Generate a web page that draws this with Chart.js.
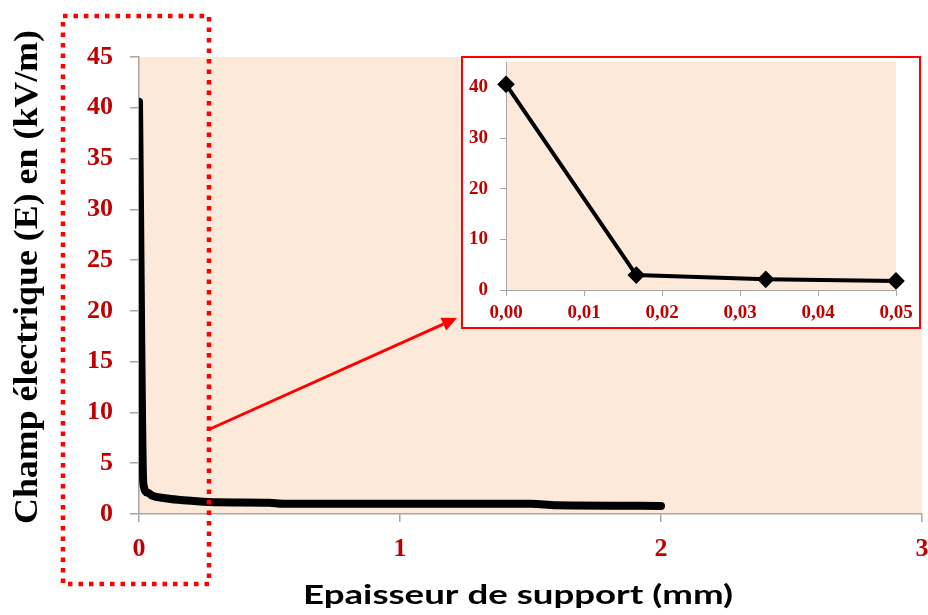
<!DOCTYPE html>
<html>
<head>
<meta charset="utf-8">
<script src="https://cdn.jsdelivr.net/npm/chart.js@4.4.0/dist/chart.umd.min.js"></script>
<style>
  html, body { margin: 0; padding: 0; background: #ffffff; }
  #wrap { position: relative; width: 928px; height: 615px; overflow: hidden; }
  #main { position: absolute; left: 0; top: 0; }
  #insetBox { position: absolute; left: 461px; top: 56px; width: 456px; height: 269px;
              border: 2px solid #FF0000; background: #ffffff; }
  #inset { display: block; }
</style>
</head>
<body>
<div id="wrap">
  <canvas id="main" width="928" height="615"></canvas>
  <div id="insetBox"><canvas id="inset" width="456" height="269"></canvas></div>
</div>
<script>
// Electric field (kV/m) versus support thickness (mm)
const thickness = [0, 0.0167, 0.0333, 0.05, 0.1, 0.15, 0.2, 0.3, 0.5, 0.55, 1.0, 1.5, 1.6, 2.0];
const field     = [40.6, 2.95, 2.1, 1.8, 1.55, 1.4, 1.3, 1.15, 1.1, 1.0, 1.0, 1.0, 0.85, 0.8];

// First few points, shown enlarged in the inset
const zoomThickness = [0, 0.0167, 0.0333, 0.05];
const zoomField     = [40.6, 2.95, 2.1, 1.8];

// Tick labels
const mainXTicks = ['0', '1', '2', '3'];
const mainYTicks = ['0', '5', '10', '15', '20', '25', '30', '35', '40', '45'];
const zoomXTicks = ['0,00', '0,01', '0,02', '0,03', '0,04', '0,05'];
const zoomYTicks = ['0', '10', '20', '30', '40'];

const xTitle = 'Epaisseur de support (mm)';
const yTitle = 'Champ électrique (E) en (kV/m)';

const DARK_RED = '#C00000';
const AXIS_GREY = '#A6A6A6';
const PLOT_BG = '#FDE9DA';

const toPoints = (xs, ys) => xs.map((x, i) => ({ x: x, y: ys[i] }));

const plotBackground = {
  id: 'plotBackground',
  beforeDraw(chart) {
    const { ctx, chartArea: a } = chart;
    ctx.save();
    ctx.fillStyle = PLOT_BG;
    ctx.fillRect(a.left, a.top, a.right - a.left, a.bottom - a.top);
    ctx.restore();
  }
};

// draws a single line of text with its advance stretched to a given length
function fillFitted(ctx, text, length) {
  const w = ctx.measureText(text).width;
  ctx.scale(length / w, 1);
  ctx.fillText(text, 0, 0);
}

// Axis titles, dotted highlight frame and the pointer arrow towards the inset
const annotations = {
  id: 'annotations',
  afterDraw(chart) {
    const ctx = chart.ctx;
    ctx.save();
    ctx.fillStyle = '#000000';
    ctx.textAlign = 'center';
    ctx.textBaseline = 'alphabetic';

    // y title, rotated
    ctx.save();
    ctx.font = 'bold 34px "Liberation Serif", "Times New Roman", serif';
    ctx.translate(37, 277);
    ctx.rotate(-Math.PI / 2);
    fillFitted(ctx, yTitle, 494);
    ctx.restore();

    // x title
    ctx.save();
    ctx.font = 'bold 26px Lato, "Open Sans", sans-serif';
    ctx.translate(518, 604);
    fillFitted(ctx, xTitle, 430);
    ctx.restore();

    // dotted frame around the steep part of the curve
    ctx.strokeStyle = '#FF0000';
    ctx.lineWidth = 4.5;
    ctx.lineCap = 'butt';
    ctx.setLineDash([4.5, 6]);
    ctx.strokeRect(63, 16, 146, 568);
    ctx.setLineDash([]);

    // arrow
    const x0 = 210, y0 = 429, x1 = 457, y1 = 318;
    const ang = Math.atan2(y1 - y0, x1 - x0);
    const headLen = 15, headW = 7;
    const bx = x1 - headLen * Math.cos(ang), by = y1 - headLen * Math.sin(ang);
    ctx.lineWidth = 3;
    ctx.beginPath();
    ctx.moveTo(x0, y0);
    ctx.lineTo(bx, by);
    ctx.stroke();
    ctx.fillStyle = '#FF0000';
    ctx.beginPath();
    ctx.moveTo(x1, y1);
    ctx.lineTo(bx + headW * Math.sin(ang), by - headW * Math.cos(ang));
    ctx.lineTo(bx - headW * Math.sin(ang), by + headW * Math.cos(ang));
    ctx.closePath();
    ctx.fill();
    ctx.restore();
  }
};

const serifBold = (size) => ({ family: '"Liberation Serif", "Times New Roman", serif', size: size, weight: 'bold' });

// fixed axis box sizes; label overflow is absorbed by the layout padding
const fixHeight = h => s => { s.height = h; s.paddingLeft = 0; s.paddingRight = 0; };
const fixWidth = w => s => { s.width = w; s.paddingTop = 0; s.paddingBottom = 0; };

new Chart(document.getElementById('main'), {
  type: 'line',
  data: {
    datasets: [{
      data: toPoints(thickness, field),
      borderColor: '#000000',
      borderWidth: 8,
      pointRadius: 0,
      cubicInterpolationMode: 'monotone',
      borderCapStyle: 'round',
      borderJoinStyle: 'round',
      clip: { left: 0, top: 10, right: 10, bottom: 10 }
    }]
  },
  options: {
    responsive: false,
    animation: false,
    layout: { autoPadding: false, padding: { left: 0, top: 57, right: 6, bottom: 0 } },
    plugins: { legend: { display: false }, tooltip: { enabled: false } },
    scales: {
      x: {
        type: 'linear',
        min: 0, max: 3,
        afterFit: fixHeight(101),
        afterBuildTicks: s => { s.ticks = mainXTicks.map(t => ({ value: Number(t) })); },
        ticks: {
          color: DARK_RED, font: serifBold(26), padding: 12,
          callback: (v, i) => mainXTicks[i]
        },
        grid: { drawOnChartArea: false, tickLength: 8, color: AXIS_GREY, lineWidth: 1.5 },
        border: { color: AXIS_GREY, width: 1.5 }
      },
      y: {
        type: 'linear',
        min: 0, max: 45,
        afterFit: fixWidth(139),
        afterBuildTicks: s => { s.ticks = mainYTicks.map(t => ({ value: Number(t) })); },
        ticks: {
          color: DARK_RED, font: serifBold(26), padding: 17,
          callback: (v, i) => mainYTicks[i]
        },
        grid: { drawOnChartArea: false, tickLength: 9, color: AXIS_GREY, lineWidth: 1.5 },
        border: { color: AXIS_GREY, width: 1.5 }
      }
    }
  },
  plugins: [plotBackground, annotations]
});

new Chart(document.getElementById('inset'), {
  type: 'line',
  data: {
    datasets: [{
      data: toPoints(zoomThickness, zoomField),
      borderColor: '#000000',
      borderWidth: 4,
      pointStyle: 'rectRot',
      pointRadius: 6,
      pointBackgroundColor: '#000000',
      pointBorderColor: '#000000',
      tension: 0,
      clip: false
    }]
  },
  options: {
    responsive: false,
    animation: false,
    layout: { autoPadding: false, padding: { left: 0, top: 4, right: 23, bottom: 0 } },
    plugins: { legend: { display: false }, tooltip: { enabled: false } },
    scales: {
      x: {
        type: 'linear',
        min: 0, max: 0.05,
        afterFit: fixHeight(37),
        afterBuildTicks: s => { s.ticks = zoomXTicks.map(t => ({ value: Number(t.replace(',', '.')) })); },
        ticks: {
          color: DARK_RED, font: serifBold(19), padding: 6,
          callback: (v, i) => zoomXTicks[i]
        },
        grid: { drawOnChartArea: false, tickLength: 6, color: AXIS_GREY, lineWidth: 1 },
        border: { color: AXIS_GREY, width: 1 }
      },
      y: {
        type: 'linear',
        min: 0, max: 45,
        afterFit: fixWidth(43),
        afterBuildTicks: s => { s.ticks = zoomYTicks.map(t => ({ value: Number(t) })); },
        ticks: {
          color: DARK_RED, font: serifBold(19), padding: 12,
          callback: (v, i) => zoomYTicks[i]
        },
        grid: { drawOnChartArea: false, tickLength: 6, color: AXIS_GREY, lineWidth: 1 },
        border: { color: AXIS_GREY, width: 1 }
      }
    }
  },
  plugins: [plotBackground]
});
</script>
</body>
</html>
